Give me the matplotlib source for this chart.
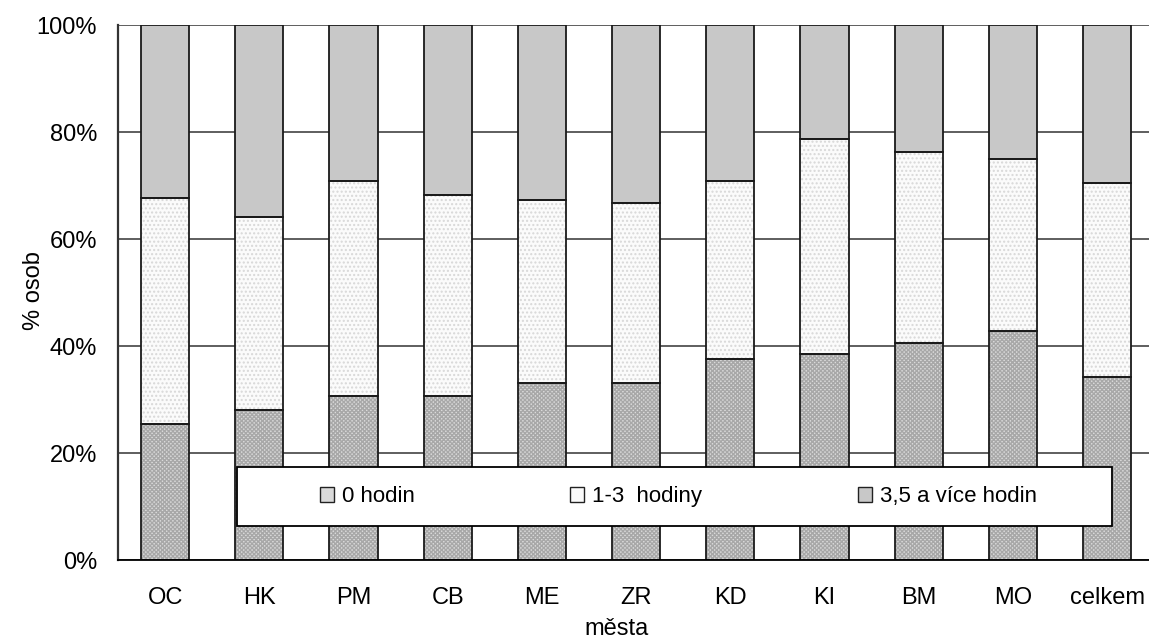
import matplotlib
matplotlib.use('Agg')
import matplotlib.pyplot as plt
from matplotlib.patches import Patch, Rectangle
import numpy as np

plt.rcParams['font.family'] = ['Liberation Sans', 'DejaVu Sans']

mesta = ['OC', 'HK', 'PM', 'CB', 'ME', 'ZR', 'KD', 'KI', 'BM', 'MO', 'celkem']
# podil osob v %
h0 = [25.5, 28.1, 30.8, 30.8, 33.1, 33.1, 37.7, 38.6, 40.6, 42.9, 34.3]
h13 = [42.2, 36.1, 40.1, 37.5, 34.3, 33.6, 33.2, 40.1, 35.8, 32.1, 36.3]
h35 = [100 - a - b for a, b in zip(h0, h13)]
labels = ['0 hodin', '1-3  hodiny', '3,5 a více hodin']

x = np.arange(len(mesta))
w = 0.51

fig = plt.figure(figsize=(11.49, 6.4), dpi=100)
ax = fig.add_axes([118 / 1149, (640 - 560.3) / 640, 1031 / 1149, 535 / 640])

bottom = np.array(h0)
mid = np.array(h13)
top = np.array(h35)

sty0 = dict(color='#dadada', edgecolor='#a8a8a8', hatch='xxxxxxxx', linewidth=0)
sty1 = dict(color='#fbfbfb', edgecolor='#d8d8d8', hatch='....', linewidth=0)
sty2 = dict(color='#c8c8c8', linewidth=0)

# hatched fills
ax.bar(x, bottom, w, zorder=2, **sty0)
ax.bar(x, mid, w, bottom=bottom, zorder=2, **sty1)
ax.bar(x, top, w, bottom=bottom + mid, zorder=2, **sty2)
# outlines
for b, v in [(0, bottom), (bottom, mid), (bottom + mid, top)]:
    ax.bar(x, v, w, bottom=b, fill=False, edgecolor='#1a1a1a', linewidth=1.3, zorder=3)

ax.set_xlim(-0.5, -0.5 + 1031 / 94.2)
ax.set_ylim(0, 100)
ax.set_yticks([0, 20, 40, 60, 80, 100])
ax.set_yticklabels(['0%', '20%', '40%', '60%', '80%', '100%'])
ax.set_xticks(x)
ax.set_xticklabels(mesta)
ax.tick_params(axis='both', length=0, labelsize=17)
ax.tick_params(axis='x', pad=19)
ax.tick_params(axis='y', pad=15)
ax.yaxis.grid(True, color='#333333', linewidth=1.1, zorder=0)
ax.set_axisbelow(True)

for s in ['top', 'right']:
    ax.spines[s].set_visible(False)
ax.spines['left'].set_color('#333333')
ax.spines['left'].set_linewidth(1.6)
ax.spines['bottom'].set_color('black')
ax.spines['bottom'].set_linewidth(1.3)
ax.spines['bottom'].set_zorder(4)

ax.set_xlabel('města', fontsize=17)
ax.set_ylabel('% osob', fontsize=17)
ax.xaxis.set_label_coords(0.484, -0.108)
ax.yaxis.set_label_coords(-0.071, 0.505)

# legend box
box = Rectangle((0.1154, 0.064), 0.964 - 0.1154, 0.174 - 0.064, transform=ax.transAxes,
                facecolor='white', edgecolor='black', linewidth=1.3, zorder=5)
ax.add_patch(box)

outline = dict(fill=False, edgecolor='#222222', linewidth=1)
handles = [
    (Patch(**sty0), Patch(**outline)),
    (Patch(facecolor='#fbfbfb', linewidth=0), Patch(**outline)),
    (Patch(**sty2), Patch(**outline)),
]
leg = ax.legend(handles, labels, ncol=3, loc='center', bbox_to_anchor=(0.5437, 0.119),
                frameon=False, fontsize=16, handlelength=0.63, handleheight=0.63,
                handletextpad=0.36, columnspacing=7.0, borderpad=0)
leg.set_zorder(6)

fig.savefig('out.png', dpi=100)
